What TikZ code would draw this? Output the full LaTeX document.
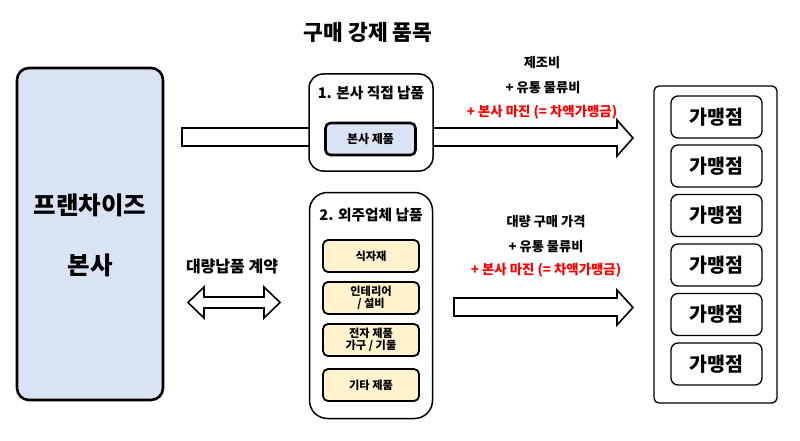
\documentclass[tikz,border=0pt]{standalone}
\usepackage{fontspec}
\setmainfont{Noto Sans CJK KR}
\definecolor{lblue}{HTML}{DAE3F3}
\definecolor{lyellow}{HTML}{FFF2CC}
\definecolor{kred}{HTML}{FF0000}
\newcommand{\fs}[1]{\fontsize{#1}{#1}\selectfont\bfseries}
\tikzset{
  hq/.style={draw=black, line width=2.6pt, fill=lblue, rounded corners=12pt, inner sep=0pt},
  group/.style={draw=black, line width=1.5pt, fill=white, inner sep=0pt},
  prodbox/.style={draw=black, line width=2.6pt, fill=lblue, rounded corners=5pt, minimum width=90pt, minimum height=32pt, inner sep=0pt, font=\fs{12}},
  itembox/.style={draw=black, line width=1.8pt, fill=lyellow, rounded corners=5pt, minimum width=96pt, minimum height=32pt, inner sep=0pt, align=center, font=\fs{11.2}},
  storebox/.style={draw=black, line width=1.3pt, fill=white, rounded corners=7pt, minimum width=91pt, minimum height=42pt, inner sep=0pt, font=\fs{19.5}},
  blockarrow/.style={draw=black, line width=1.6pt, fill=white, line join=miter},
  lbl/.style={inner sep=0pt, align=center},
}
\begin{document}
\begin{tikzpicture}[x=1pt,y=-1pt]
\useasboundingbox (0,0) rectangle (800,441);
% title
\node[lbl, font=\fs{21.5}] (title) at (368,32) {구매 강제 품목};
% headquarters
\node[hq, minimum width=146pt, minimum height=332pt] (hq) at (90,234) {};
\node[lbl, font=\fs{24.5}] (hq1) at (90,205) {프랜차이즈};
\node[lbl, font=\fs{24.5}] (hq2) at (90,265) {본사};
% top block arrow
\draw[blockarrow] (182,128) -- (617,128) -- (617,120) -- (633,138) -- (617,156) -- (617,146) -- (182,146) -- cycle;
% group 1
\node[group, rounded corners=14pt, minimum width=124pt, minimum height=97pt] (g1) at (371,122.5) {};
\node[lbl, font=\fs{14.7}] (g1t) at (371,93) {1. 본사 직접 납품};
\node[prodbox] (p1) at (370.5,139) {본사 제품};
% group 2
\node[group, rounded corners=18pt, minimum width=123pt, minimum height=226pt] (g2) at (371,305.5) {};
\node[lbl, font=\fs{14.7}] (g2t) at (371,215) {2. 외주업체 납품};
\node[itembox] (i1) at (371,256) {식자재};
\node[itembox] (i2) at (371,298) {인테리어\\[1pt]/ 설비};
\node[itembox] (i3) at (371,340) {전자 제품\\[1pt]가구 / 기물};
\node[itembox] (i4) at (371,385) {기타 제품};
% bottom block arrow
\draw[blockarrow] (454,298) -- (617,298) -- (617,290) -- (633,307.5) -- (617,325) -- (617,316) -- (454,316) -- cycle;
% double arrow
\node[lbl, font=\fs{16}] (contract) at (232,267) {대량납품 계약};
\draw[blockarrow] (188,302.5) -- (204,287) -- (204,297) -- (264,297) -- (264,287) -- (280,302.5) -- (264,318) -- (264,308) -- (204,308) -- (204,318) -- cycle;
% price labels top
\node[lbl, font=\fs{13.2}] (t1) at (542,63) {제조비};
\node[lbl, font=\fs{13.2}] (t2) at (543,88) {+ 유통 물류비};
\node[lbl, font=\fs{13.4}, text=kred] (t3) at (542,112) {+ 본사 마진 (= 차액가맹금)};
% price labels bottom
\node[lbl, font=\fs{13.2}] (b1) at (546,222) {대량 구매 가격};
\node[lbl, font=\fs{13.2}] (b2) at (546,247) {+ 유통 물류비};
\node[lbl, font=\fs{13.4}, text=kred] (b3) at (546,270) {+ 본사 마진 (= 차액가맹금)};
% stores
\node[group, line width=1.3pt, rounded corners=5pt, minimum width=123pt, minimum height=317pt] (stores) at (715.5,244.5) {};
\node[storebox] (s1) at (716.5,117) {가맹점};
\node[storebox] (s2) at (716.5,166) {가맹점};
\node[storebox] (s3) at (716.5,215.5) {가맹점};
\node[storebox] (s4) at (716.5,265) {가맹점};
\node[storebox] (s5) at (716.5,314.5) {가맹점};
\node[storebox] (s6) at (716.5,364) {가맹점};
\end{tikzpicture}
\end{document}
